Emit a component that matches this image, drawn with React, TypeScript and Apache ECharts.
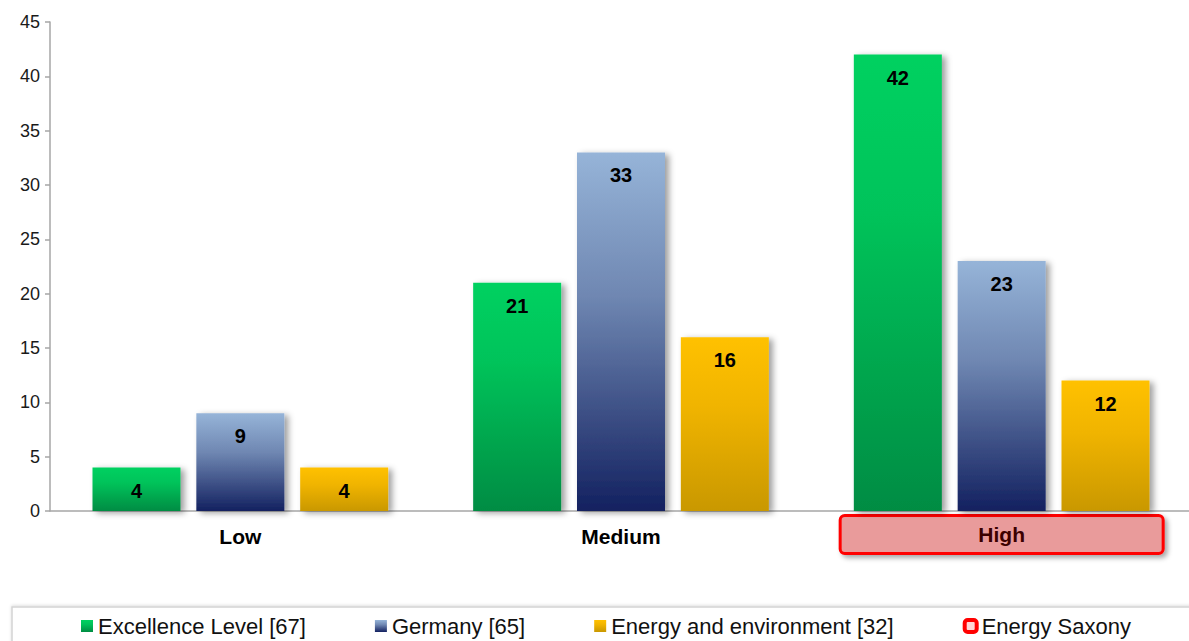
import React, { useEffect, useRef } from "react";
import * as echarts from "echarts";

const categories = ["Low", "Medium", "High"];
const excellence = [4, 21, 42];
const germany = [9, 33, 23];
const energyEnv = [4, 16, 12];
const seriesNames = [
  "Excellence Level [67]",
  "Germany [65]",
  "Energy and environment [32]",
  "Energy Saxony",
];
const highlighted = "High";

const FONT = "'Liberation Sans', Arial, sans-serif";

const grad = (stops: [number, string][]) =>
  new echarts.graphic.LinearGradient(
    0,
    0,
    0,
    1,
    stops.map(([offset, color]) => ({ offset, color }))
  );

const barStyle = (color: any) => ({
  color,
  shadowColor: "rgba(0,0,0,0.38)",
  shadowBlur: 6,
  shadowOffsetX: 4,
  shadowOffsetY: 2,
});

const valueLabel = {
  show: true,
  position: "insideTop" as const,
  distance: 13,
  fontSize: 20,
  fontWeight: "bold" as const,
  color: "#000",
  fontFamily: FONT,
};

export default function App() {
  const ref = useRef<HTMLDivElement>(null);

  useEffect(() => {
    if (!ref.current) return;
    const chart = echarts.init(ref.current, undefined, { renderer: "svg" });

    const green = grad([
      [0, "#00D160"],
      [0.35, "#00C35A"],
      [1, "#008C43"],
    ]);
    const blue = grad([
      [0, "#96B4D8"],
      [0.4, "#6F87B2"],
      [1, "#132160"],
    ]);
    const yellow = grad([
      [0, "#FFC100"],
      [0.4, "#F0B400"],
      [1, "#C99800"],
    ]);

    chart.setOption({
      animation: false,
      textStyle: { fontFamily: FONT },
      graphic: [
        {
          type: "rect",
          z: -1,
          shape: { x: 12, y: 607, width: 1200, height: 60 },
          style: {
            fill: "#fff",
            stroke: "#D4D4D4",
            lineWidth: 1.5,
            shadowColor: "rgba(0,0,0,0.12)",
            shadowBlur: 3,
            shadowOffsetY: -1,
          },
        },
      ],
      // the plot runs a few pixels past the visible right edge
      grid: { left: 50, width: 1142, top: 22, bottom: 130 },
      legend: {
        left: 81,
        top: 615,
        padding: 0,
        itemWidth: 12,
        itemHeight: 12,
        itemGap: 69,
        textStyle: { fontSize: 22, color: "#111", fontFamily: FONT },
        data: [
          { name: seriesNames[0], icon: "rect" },
          { name: seriesNames[1], icon: "rect" },
          { name: seriesNames[2], icon: "rect" },
          {
            name: seriesNames[3],
            icon: "roundRect",
            itemStyle: {
              color: "#FFD6D6",
              borderColor: "#FF0000",
              borderWidth: 4,
            },
          },
        ],
      },
      xAxis: {
        type: "category",
        data: categories,
        axisLine: { lineStyle: { color: "#A6A6A6", width: 1.5 } },
        axisTick: { length: 5, lineStyle: { color: "#A6A6A6", width: 1.5 } },
        axisLabel: {
          margin: 5,
          formatter: (v: string) => (v === highlighted ? `{hl|${v}}` : `{n|${v}}`),
          rich: {
            n: {
              fontSize: 21,
              fontWeight: "bold",
              color: "#000",
              height: 36,
              lineHeight: 41,
              fontFamily: FONT,
            },
            hl: {
              fontSize: 21,
              fontWeight: "bold",
              color: "#3C0000",
              width: 320,
              height: 35,
              lineHeight: 37,
              align: "center",
              backgroundColor: "#E99B9B",
              borderColor: "#FF0000",
              borderWidth: 3,
              borderRadius: 3,
              shadowColor: "rgba(0,0,0,0.35)",
              shadowBlur: 5,
              shadowOffsetX: 3,
              shadowOffsetY: 3,
              fontFamily: FONT,
            },
          },
        },
      },
      yAxis: {
        type: "value",
        min: 0,
        max: 45,
        interval: 5,
        splitLine: { show: false },
        axisLine: { show: true, lineStyle: { color: "#A6A6A6", width: 1.5 } },
        axisTick: { show: true, length: 5, lineStyle: { color: "#A6A6A6", width: 1.5 } },
        axisLabel: { fontSize: 18, color: "#1A1A1A", margin: 10, fontFamily: FONT },
      },
      series: [
        {
          name: seriesNames[0],
          type: "bar",
          data: excellence,
          barWidth: 88,
          barGap: "18%",
          itemStyle: barStyle(green),
          label: valueLabel,
        },
        {
          name: seriesNames[1],
          type: "bar",
          data: germany,
          barWidth: 88,
          barGap: "18%",
          itemStyle: barStyle(blue),
          label: valueLabel,
        },
        {
          name: seriesNames[2],
          type: "bar",
          data: energyEnv,
          barWidth: 88,
          barGap: "18%",
          itemStyle: barStyle(yellow),
          label: valueLabel,
        },
        {
          name: seriesNames[3],
          type: "line",
          data: [],
          itemStyle: { color: "#FF0000" },
        },
      ],
    });

    return () => chart.dispose();
  }, []);

  return (
    <div
      style={{
        position: "fixed",
        left: 0,
        top: 0,
        width: 1189,
        height: 641,
        overflow: "hidden",
        background: "#fff",
      }}
    >
      <div ref={ref} style={{ width: 1200, height: 641 }} />
    </div>
  );
}
